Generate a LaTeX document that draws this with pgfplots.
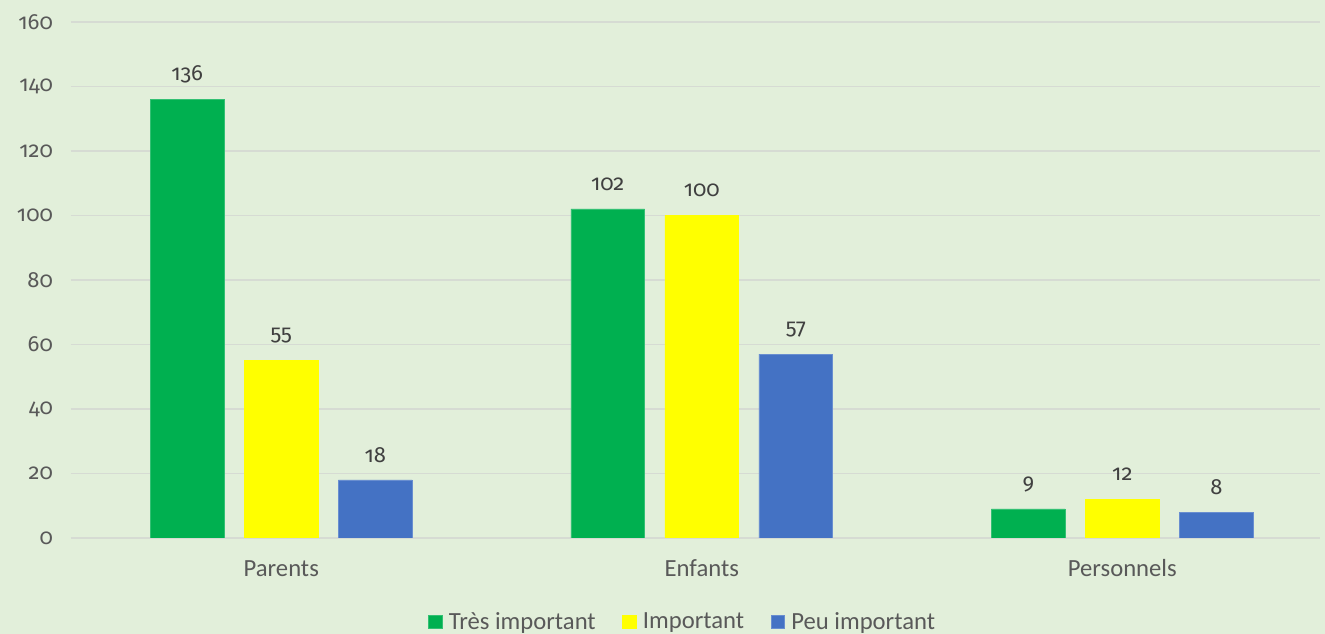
\documentclass[border=0pt]{standalone}
\usepackage{pgfplots}
\pgfplotsset{compat=1.18}
\usepackage{fontspec}
\setmainfont{Carlito}
\newfontfamily\numfont{Fira Sans}[Numbers=OldStyle]
\usetikzlibrary{backgrounds}
\definecolor{bg}{HTML}{E2EFDA}
\definecolor{cgreen}{HTML}{00B050}
\definecolor{cyellow}{HTML}{FFFF00}
\definecolor{cblue}{HTML}{4472C4}
\definecolor{txt}{HTML}{595959}
\definecolor{lbl}{HTML}{404040}
\definecolor{gridc}{HTML}{D6DBD3}
\begin{document}
\begin{tikzpicture}
\begin{axis}[
  at={(0,0)}, anchor=south west,
  scale only axis, width=937pt, height=387pt,
  ymin=0, ymax=160, ytick={0,20,...,160},
  xmin=-0.5, xmax=2.47,
  xtick={0,1,2}, xticklabels={Parents,Enfants,Personnels},
  axis line style={draw=none},
  major tick length=0pt,
  ymajorgrids, grid style={gridc, line width=1.3pt},
  /pgf/number format/assume math mode=true,
  yticklabel style={anchor=east, xshift=-10pt, font=\numfont\fontsize{16.5}{18}\selectfont, text=txt},
  xticklabel style={anchor=center, yshift=-23pt, font=\fontsize{18.5}{21}\selectfont, text=txt},
  ybar, bar width=0.1755,
  nodes near coords,
  every node near coord/.append style={anchor=center, yshift=18.5pt, font=\numfont\fontsize{16.5}{18}\selectfont, text=lbl},
  legend style={at={(axis description cs:0.49,-0.163)}, anchor=center, draw=none, fill=none,
    legend columns=3, font=\fontsize{18.5}{21}\selectfont, text=txt,
    /tikz/every even column/.append style={column sep=18pt},
    /tikz/every odd column/.append style={column sep=3pt}},
  legend image code/.code={\fill[#1] (0pt,-5pt) rectangle (10pt,5pt);},
]
\addplot[fill=cgreen, draw=cgreen!80!white, bar shift=-0.2236] coordinates {(0,136) (1,102) (2,9)};
\addplot[fill=cyellow, draw=cyellow, bar shift=0] coordinates {(0,55) (1,100) (2,12)};
\addplot[fill=cblue, draw=cblue!80!white, bar shift=0.2236] coordinates {(0,18) (1,57) (2,8)};
\legend{Très important, Important, Peu important}
\end{axis}
\begin{scope}[on background layer]
\fill[bg] (-53.25pt,-72pt) rectangle (940.75pt,403.5pt);
\end{scope}
\pgfresetboundingbox
\useasboundingbox (-53.25pt,-72pt) rectangle (940.75pt,403.5pt);
\end{tikzpicture}
\end{document}
